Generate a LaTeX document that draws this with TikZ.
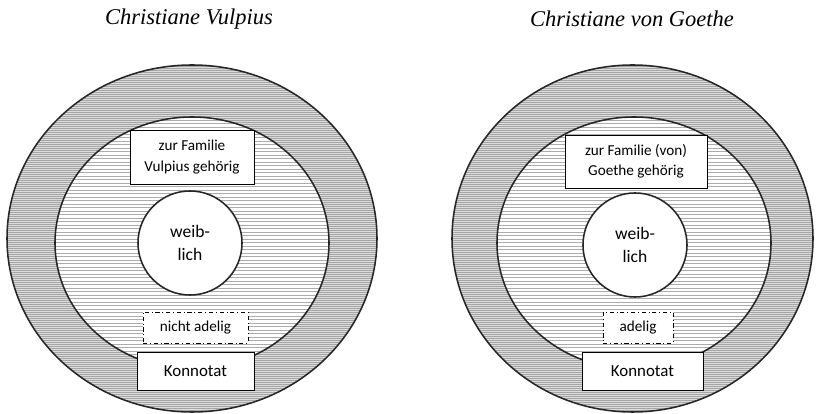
\documentclass[tikz,border=0pt]{standalone}
\usepackage{fontspec}
\setmainfont{Carlito}
\newfontfamily\titlefont{Liberation Serif}
\begin{document}
\begin{tikzpicture}[x=0.025cm, y=0.025cm,
    rim/.style={draw=black!85, line width=1.1pt},
    outerhatch/.style={draw=gray!70, line width=0.45pt},
    innerhatch/.style={draw=gray!65, line width=0.65pt},
    box/.style={draw, fill=white, line width=0.6pt, inner sep=0pt, align=center, font=\fontsize{10.8}{14.5}\selectfont},
    dotbox/.style={box, dash dot},
    konbox/.style={box, font=\fontsize{12}{14}\selectfont},
    core/.style={circle, rim, fill=white, minimum size=2.6cm, inner sep=0pt, align=center, font=\fontsize{12.5}{17}\selectfont},
    title/.style={font=\titlefont\itshape\fontsize{16}{18}\selectfont}]
    \useasboundingbox (0,0) rectangle (818,414);

    % left diagram
    \begin{scope}
      \clip (192,175.5) ellipse [x radius=185, y radius=173.5];
      \fill[gray!28] (0,0) rectangle (409,414);
      \foreach \y in {0,2,...,414} \draw[outerhatch] (0,\y) -- (409,\y);
    \end{scope}
    \draw[rim] (192,175.5) ellipse [x radius=185, y radius=173.5];
    \begin{scope}
      \clip (192,171) ellipse [x radius=137, y radius=126];
      \fill[white] (0,0) rectangle (409,414);
      \foreach \y in {0,3.5,...,414} \draw[innerhatch] (0,\y) -- (409,\y);
    \end{scope}
    \draw[rim] (192,171) ellipse [x radius=137, y radius=126];

    % right diagram
    \begin{scope}
      \clip (632.5,175.5) ellipse [x radius=180.5, y radius=173.5];
      \fill[gray!28] (409,0) rectangle (818,414);
      \foreach \y in {0,2,...,414} \draw[outerhatch] (409,\y) -- (818,\y);
    \end{scope}
    \draw[rim] (632.5,175.5) ellipse [x radius=180.5, y radius=173.5];
    \begin{scope}
      \clip (634,171) ellipse [x radius=137, y radius=126];
      \fill[white] (409,0) rectangle (818,414);
      \foreach \y in {0,3.5,...,414} \draw[innerhatch] (409,\y) -- (818,\y);
    \end{scope}
    \draw[rim] (634,171) ellipse [x radius=137, y radius=126];

    \node[title] at (189,395) (ltitle) {Christiane Vulpius};
    \node[title] at (632,395) (rtitle) {Christiane von Goethe};

    \node[core] at (190,171) (lcore) {weib-\\lich};
    \node[core] at (635,169) (rcore) {weib-\\lich};

    \node[box, minimum width=3.1cm, minimum height=1.35cm] at (192,257) (lfamily) {zur Familie\\Vulpius gehörig};
    \node[dotbox, minimum width=2.625cm, minimum height=0.775cm] at (195.5,86.5) (ladel) {nicht adelig};
    \node[konbox, minimum width=2.925cm, minimum height=0.95cm] at (195.5,43) (lkon) {Konnotat};

    \node[box, minimum width=3.55cm, minimum height=1.325cm] at (636,252.5) (rfamily) {zur Familie (von)\\Goethe gehörig};
    \node[dotbox, minimum width=1.75cm, minimum height=0.775cm] at (638,86.5) (radel) {adelig};
    \node[konbox, minimum width=3.025cm, minimum height=0.95cm] at (642.5,43) (rkon) {Konnotat};
  \end{tikzpicture}
\end{document}
